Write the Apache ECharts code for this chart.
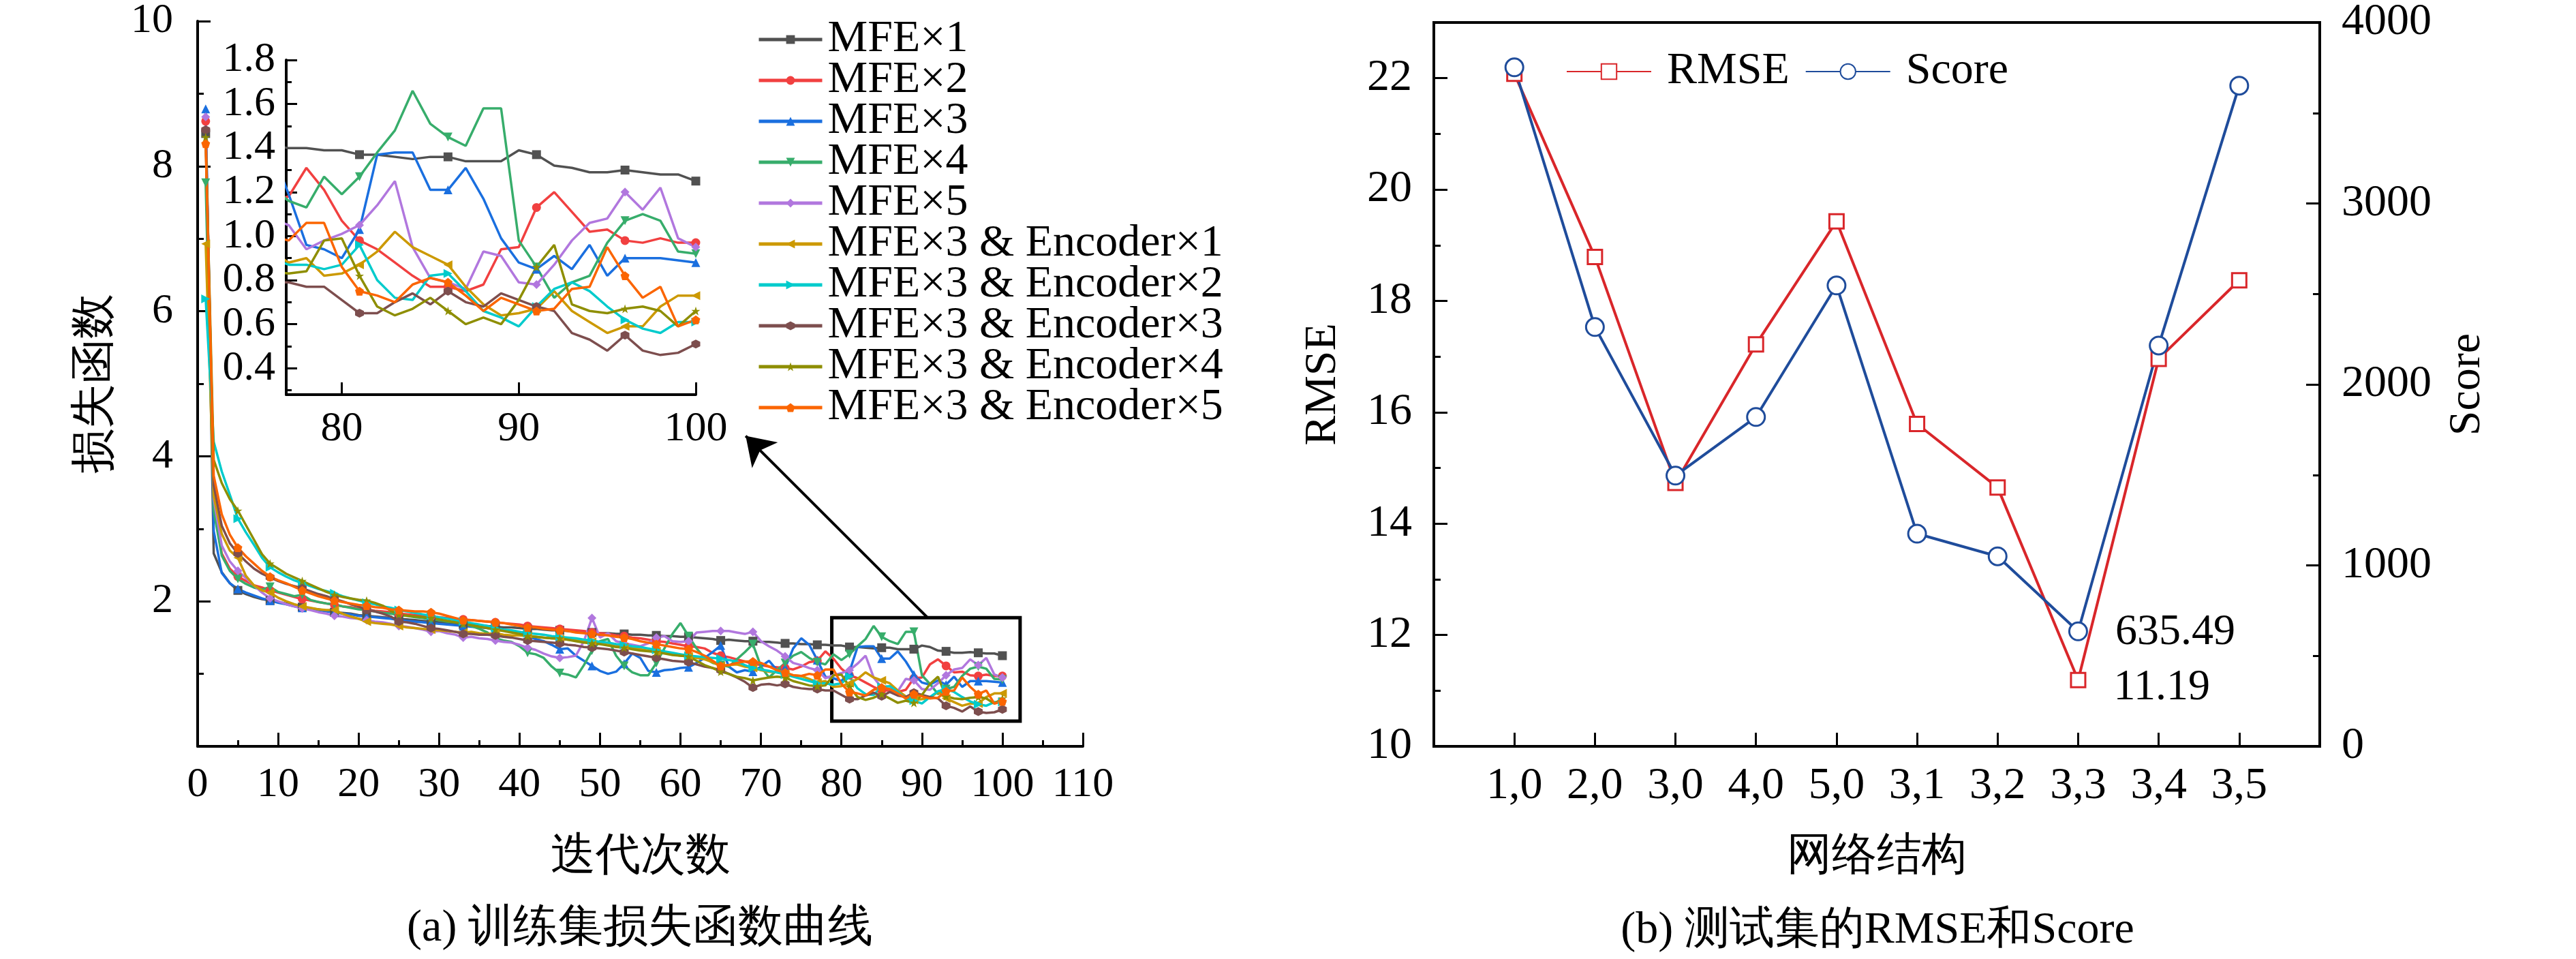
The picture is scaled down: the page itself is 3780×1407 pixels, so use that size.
<!DOCTYPE html>
<html>
<head>
<meta charset="utf-8">
<script src="https://cdn.jsdelivr.net/npm/echarts@6/dist/echarts.min.js"></script>
<style>
  html, body { margin: 0; padding: 0; background: #fff; }
  #chart { width: 3780px; height: 1407px; }
</style>
</head>
<body>
<div id="chart"></div>
<script>
// training loss per iteration (1..100), one array per network variant
var lossMFE1 = [8.45,2.66,2.40,2.25,2.15,2.10,2.06,2.03,2.01,1.99, 1.97,1.95,1.92,1.90,1.89,1.87,1.85,1.84,1.83,1.81,
    1.80,1.79,1.78,1.77,1.76,1.75,1.74,1.73,1.72,1.71, 1.70,1.69,1.68,1.67,1.67,1.66,1.65,1.64,1.64,1.63,
    1.62,1.62,1.61,1.60,1.60,1.59,1.58,1.58,1.57,1.56, 1.56,1.55,1.55,1.54,1.54,1.53,1.53,1.52,1.52,1.51,
    1.51,1.50,1.49,1.48,1.46,1.47,1.46,1.45,1.45,1.44, 1.44,1.43,1.42,1.42,1.41,1.41,
    1.40,1.40,1.39,1.39,1.37,1.37,1.36,1.35,1.36,1.36,1.34,1.34,1.34,1.39,1.37,1.32,1.31,1.29,1.29,1.30,1.29,1.28,1.28,1.25];
var lossMFE2 = [8.62,3.30,2.66,2.45,2.34,2.28,2.22,2.19,2.15,2.12, 2.09,2.06,2.03,2.01,1.99,1.97,1.95,1.93,1.92,1.90,
    1.89,1.87,1.86,1.85,1.83,1.82,1.81,1.80,1.79,1.78, 1.77,1.76,1.75,1.74,1.73,1.72,1.71,1.70,1.69,1.68,
    1.66,1.65,1.64,1.63,1.62,1.61,1.60,1.59,1.57,1.56, 1.55,1.53,1.52,1.50,1.49,1.47,1.45,1.44,1.42,1.40,
    1.38,1.37,1.35,1.29,1.25,1.23,1.20,1.17,1.14,1.12, 1.10,1.09,1.08,1.06,1.10,1.16,
    1.18,1.31,1.21,1.07,0.98,0.94,0.88,0.82,0.77,0.77,0.75,0.78,0.94,0.95,1.13,1.20,1.11,1.02,1.03,0.98,0.97,0.99,0.97,0.97];
var lossMFE3 = [8.79,2.97,2.39,2.25,2.17,2.12,2.08,2.04,2.01,1.98, 1.96,1.93,1.91,1.90,1.88,1.86,1.85,1.83,1.82,1.80,
    1.79,1.78,1.77,1.76,1.74,1.73,1.72,1.71,1.70,1.69, 1.68,1.67,1.66,1.65,1.64,1.63,1.61,1.60,1.58,1.56,
    1.52,1.48,1.45,1.40,1.34,1.35,1.25,1.18,1.11,1.04, 1.00,1.03,1.14,1.28,1.22,1.04,1.02,1.05,1.06,1.08,
    1.09,1.15,1.22,1.30,1.39,1.10,1.02,1.05,1.03,1.10, 1.18,1.05,1.08,1.35,1.49,1.40,
    1.19,0.96,0.94,0.90,1.03,1.37,1.38,1.38,1.21,1.21,1.31,1.17,0.99,0.88,0.85,0.91,0.85,0.96,0.82,0.90,0.90,0.90,0.89,0.88];
var lossMFE4 = [7.77,3.25,2.63,2.42,2.31,2.24,2.19,2.16,2.20,2.13, 2.10,2.07,2.09,2.02,1.99,1.97,1.96,1.93,1.91,1.89,
    1.88,1.86,1.84,1.83,1.81,1.80,1.78,1.77,1.75,1.74, 1.72,1.71,1.69,1.66,1.62,1.57,1.49,1.46,1.44,1.38,
    1.29,1.27,1.22,1.10,1.01,0.99,0.95,1.12,1.32,1.45, 1.48,1.25,1.11,1.02,0.98,0.98,1.15,1.35,1.55,1.70,
    1.52,1.35,1.22,1.15,1.12,1.10,1.20,1.30,1.41,1.10, 0.95,1.05,1.15,1.25,1.30,1.22,
    1.16,1.13,1.27,1.19,1.27,1.38,1.48,1.66,1.51,1.45,1.41,1.58,1.58,0.98,0.86,0.72,0.79,0.82,0.97,1.07,1.10,1.07,0.93,0.92];
var lossMFE5 = [8.68,3.41,2.77,2.55,2.42,2.32,2.22,2.12,2.04,2.00, 1.96,1.93,1.90,1.88,1.85,1.83,1.80,1.79,1.77,1.76,
    1.74,1.72,1.71,1.69,1.66,1.65,1.63,1.61,1.58,1.59, 1.56,1.54,1.50,1.51,1.49,1.48,1.46,1.44,1.43,1.40,
    1.36,1.33,1.28,1.24,1.22,1.23,1.25,1.45,1.77,1.50, 1.56,1.45,1.42,1.40,1.38,1.42,1.50,1.52,1.45,1.44,
    1.45,1.57,1.58,1.59,1.59,1.59,1.57,1.55,1.58,1.45, 1.38,1.32,1.24,1.15,1.12,1.08,
    1.05,0.94,0.98,1.01,1.05,1.14,1.25,0.95,0.81,0.79,0.76,0.93,0.91,0.79,0.78,0.87,0.98,1.06,1.08,1.20,1.12,1.22,0.99,0.95];
var lossEnc1 = [6.93,3.45,2.93,2.70,2.60,2.35,2.22,2.15,2.12,2.05, 2.00,1.96,1.93,1.91,1.89,1.88,1.88,1.83,1.79,1.76,
    1.72,1.70,1.69,1.68,1.66,1.64,1.63,1.62,1.61,1.60, 1.59,1.58,1.57,1.58,1.56,1.55,1.56,1.54,1.53,1.53,
    1.52,1.51,1.50,1.49,1.48,1.47,1.46,1.45,1.44,1.43, 1.42,1.40,1.37,1.36,1.34,1.32,1.31,1.29,1.27,1.25,
    1.24,1.22,1.20,1.16,1.11,1.12,1.13,1.10,1.08,1.05, 1.03,1.02,1.00,0.98,0.97,0.93,
    0.88,0.90,0.82,0.83,0.87,0.93,1.02,0.95,0.91,0.87,0.77,0.69,0.64,0.65,0.67,0.75,0.66,0.61,0.56,0.59,0.59,0.68,0.73,0.73];
var lossEnc2 = [6.17,4.20,3.79,3.47,3.14,2.95,2.78,2.60,2.47,2.40, 2.34,2.29,2.25,2.21,2.17,2.14,2.11,2.07,2.04,2.01,
    1.98,1.96,1.93,1.91,1.88,1.86,1.84,1.82,1.80,1.78, 1.76,1.74,1.72,1.70,1.68,1.66,1.63,1.61,1.60,1.58,
    1.56,1.55,1.54,1.52,1.51,1.50,1.49,1.47,1.46,1.44, 1.43,1.41,1.40,1.38,1.37,1.35,1.33,1.31,1.29,1.27,
    1.25,1.24,1.23,1.22,1.21,1.19,1.17,1.12,1.08,1.06, 1.04,1.02,0.99,0.96,0.93,0.90,
    0.87,0.87,0.85,0.87,0.96,0.80,0.72,0.71,0.82,0.83,0.75,0.66,0.63,0.59,0.68,0.76,0.79,0.75,0.68,0.62,0.58,0.56,0.61,0.61];
var lossEnc3 = [8.50,3.60,3.04,2.80,2.66,2.55,2.45,2.38,2.33,2.28, 2.24,2.21,2.18,2.14,2.10,2.07,2.03,2.00,1.96,1.93,
    1.88,1.86,1.83,1.79,1.72,1.71,1.69,1.66,1.63,1.62, 1.60,1.58,1.55,1.55,1.54,1.54,1.53,1.51,1.50,1.48,
    1.46,1.45,1.44,1.43,1.42,1.40,1.39,1.37,1.36,1.35, 1.34,1.32,1.30,1.28,1.26,1.24,1.22,1.20,1.18,1.17,
    1.16,1.13,1.10,1.08,1.05,1.00,0.95,0.89,0.81,0.85, 0.86,0.84,0.86,0.82,0.80,0.79,
    0.79,0.77,0.77,0.71,0.65,0.65,0.70,0.74,0.69,0.75,0.70,0.68,0.74,0.71,0.68,0.66,0.56,0.53,0.48,0.55,0.48,0.46,0.47,0.51];
var lossEnc4 = [8.40,3.95,3.63,3.41,3.25,3.05,2.85,2.65,2.52,2.45, 2.38,2.33,2.28,2.23,2.18,2.13,2.09,2.06,2.04,2.02,
    2.01,1.98,1.94,1.87,1.82,1.80,1.79,1.78,1.77,1.75, 1.73,1.71,1.69,1.67,1.65,1.63,1.61,1.59,1.57,1.55,
    1.52,1.51,1.50,1.49,1.49,1.47,1.45,1.43,1.42,1.41, 1.39,1.37,1.36,1.34,1.32,1.31,1.30,1.28,1.26,1.25,
    1.24,1.18,1.12,1.08,1.03,1.00,0.96,0.94,0.91,0.93, 0.95,0.96,0.95,0.90,0.87,0.84,
    0.83,0.84,0.98,0.99,0.82,0.68,0.64,0.67,0.72,0.66,0.60,0.63,0.60,0.71,0.86,0.96,0.69,0.66,0.65,0.67,0.68,0.66,0.59,0.66];
var lossEnc5 = [8.31,3.73,3.20,2.92,2.74,2.62,2.52,2.42,2.34,2.29, 2.25,2.20,2.15,2.11,2.07,2.04,2.01,1.99,1.97,1.95,
    1.94,1.92,1.91,1.89,1.88,1.87,1.86,1.86,1.85,1.83, 1.80,1.77,1.74,1.74,1.73,1.72,1.71,1.70,1.68,1.66,
    1.64,1.64,1.62,1.61,1.60,1.59,1.57,1.56,1.55,1.54, 1.53,1.51,1.50,1.48,1.45,1.43,1.41,1.39,1.37,1.35,
    1.34,1.30,1.25,1.18,1.11,1.12,1.15,1.17,1.17,1.15, 1.10,1.05,1.02,0.98,0.97,1.00,
    0.98,1.06,1.06,0.86,0.75,0.73,0.70,0.78,0.81,0.79,0.73,0.66,0.72,0.69,0.66,0.67,0.76,0.77,0.95,0.82,0.72,0.77,0.59,0.62];

var seriesNames = ['MFE×1', 'MFE×2', 'MFE×3', 'MFE×4', 'MFE×5',
    'MFE×3 & Encoder×1', 'MFE×3 & Encoder×2', 'MFE×3 & Encoder×3', 'MFE×3 & Encoder×4', 'MFE×3 & Encoder×5'];
var lossValues = [lossMFE1, lossMFE2, lossMFE3, lossMFE4, lossMFE5, lossEnc1, lossEnc2, lossEnc3, lossEnc4, lossEnc5];

// test set results
var structures = ['1,0', '2,0', '3,0', '4,0', '5,0', '3,1', '3,2', '3,3', '3,4', '3,5'];
var rmseValues = [22.08, 18.79, 14.73, 17.22, 19.43, 15.79, 14.65, 11.19, 16.96, 18.37];
var scoreValues = [3752, 2317, 1496, 1820, 2547, 1175, 1050, 635.49, 2215, 3651];
var bestIndex = 7;

// tick labels
var insetXTicks = [80, 90, 100];
var insetYTicks = [0.4, 0.6, 0.8, 1.0, 1.2, 1.4, 1.6, 1.8];
var insetYMinor = [0.3, 0.5, 0.7, 0.9, 1.1, 1.3, 1.5, 1.7];
var rmseTicks = [10, 12, 14, 16, 18, 20, 22];
var rmseMinor = [11, 13, 15, 17, 19, 21];
var structureTicks = [1, 2, 3, 4, 5, 6, 7, 8, 9, 10];

var iterations = lossMFE1.map(function (v, i) { return i + 1; });

var lineColors = ['#515151', '#F14040', '#1A6FDF', '#37AD6B', '#B177DE',
    '#CC9900', '#00CBCC', '#7D4E4E', '#8E8E00', '#FB6501'];
var markers = ['rect', 'circle', 'triangle', 'path://M0,0L10,0L5,10Z', 'diamond',
    'path://M10,0L10,10L0,5Z', 'path://M0,0L0,10L10,5Z',
    'path://M5,0L9.33,2.5L9.33,7.5L5,10L0.67,7.5L0.67,2.5Z',
    'path://M5,0L6.2,3.6L10,3.6L6.9,5.9L8.1,9.5L5,7.3L1.9,9.5L3.1,5.9L0,3.6L3.8,3.6Z',
    'path://M5,0L10,3.6L8.1,9.5L1.9,9.5L0,3.6Z'];

var serif = 'Liberation Serif';
var black = '#000';

var myChart = echarts.init(document.getElementById('chart'), null, { renderer: 'canvas' });

function pairs(vals) {
    return vals.map(function (v, i) { return [iterations[i], v]; });
}

// markers every `step` points plus the last one
function skipSize(step, size) {
    return function (val, p) {
        return (p.dataIndex % step === 0 || p.dataIndex === iterations.length - 1) ? size : 0;
    };
}

function axisLine() {
    return { show: true, onZero: false, lineStyle: { color: black, width: 4 } };
}

var series = [];
lossValues.forEach(function (vals, k) {
    series.push({
        type: 'line',
        name: seriesNames[k],
        data: pairs(vals),
        xAxisIndex: 0, yAxisIndex: 0,
        symbol: markers[k],
        symbolSize: skipSize(4, 13),
        lineStyle: { width: 3.5, color: lineColors[k] },
        itemStyle: { color: lineColors[k] },
        emphasis: { disabled: true }
    });
});
lossValues.forEach(function (vals, k) {
    series.push({
        type: 'line',
        name: seriesNames[k],
        data: pairs(vals),
        xAxisIndex: 1, yAxisIndex: 1,
        symbol: markers[k],
        symbolSize: skipSize(5, 13),
        lineStyle: { width: 3.5, color: lineColors[k] },
        itemStyle: { color: lineColors[k] },
        emphasis: { disabled: true },
        clip: true
    });
});

// zoom box and arrow pointing to the inset
series[0].markArea = {
    silent: true,
    itemStyle: { color: 'rgba(0,0,0,0)', borderColor: black, borderWidth: 5 },
    data: [[{ coord: [78.8, 1.775] }, { coord: [102.2, 0.347] }]]
};
series[0].markLine = {
    silent: true,
    symbol: ['none', 'arrow'],
    symbolSize: 40,
    label: { show: false },
    lineStyle: { color: black, width: 4, type: 'solid' },
    data: [[{ coord: [90.7, 1.775] }, { coord: [68.1, 4.28] }]]
};

series.push({
    type: 'line',
    name: 'RMSE',
    xAxisIndex: 2, yAxisIndex: 3,
    data: rmseValues.map(function (v, i) {
        var item = { value: [structureTicks[i], v] };
        if (i === bestIndex) {
            item.label = { show: true, position: 'right', distance: 40, offset: [0, 11],
                formatter: function (p) { return p.value[1].toFixed(2); },
                fontFamily: serif, fontSize: 64, color: black };
        }
        return item;
    }),
    symbol: 'rect',
    symbolSize: 21,
    lineStyle: { width: 4, color: '#D9262A' },
    itemStyle: { color: '#fff', borderColor: '#D9262A', borderWidth: 3 },
    emphasis: { disabled: true }
});
series.push({
    type: 'line',
    name: 'Score',
    xAxisIndex: 2, yAxisIndex: 5,
    data: scoreValues.map(function (v, i) {
        var item = { value: [structureTicks[i], v] };
        if (i === bestIndex) {
            item.label = { show: true, position: 'right', distance: 40, offset: [0, 2],
                formatter: function (p) { return String(p.value[1]); },
                fontFamily: serif, fontSize: 64, color: black };
        }
        return item;
    }),
    symbol: 'circle',
    symbolSize: 26,
    lineStyle: { width: 4, color: '#1F4C9B' },
    itemStyle: { color: '#fff', borderColor: '#1F4C9B', borderWidth: 3 },
    emphasis: { disabled: true }
});

var option = {
    animation: false,
    backgroundColor: '#fff',
    textStyle: { fontFamily: serif, color: black },
    grid: [
        { left: 290, top: 31, width: 1299, height: 1064 },
        { left: 420, top: 88, width: 601, height: 491 },
        { left: 2104, top: 33, width: 1300, height: 1062, show: true,
          borderColor: black, borderWidth: 4, backgroundColor: 'rgba(0,0,0,0)' }
    ],
    xAxis: [
        { type: 'value', gridIndex: 0, min: 0, max: 110, interval: 10,
          name: '迭代次数', nameLocation: 'middle', nameGap: 130,
          nameTextStyle: { fontSize: 66, fontFamily: serif, color: black },
          axisLine: axisLine(),
          axisTick: { inside: true, length: 20, lineStyle: { color: black, width: 3 } },
          minorTick: { show: true, splitNumber: 2, length: 9, lineStyle: { color: black, width: 3 } },
          axisLabel: { fontSize: 62, fontFamily: serif, color: black, margin: 26 },
          splitLine: { show: false } },
        { type: 'value', gridIndex: 1, min: 76.86, max: 100,
          axisLine: axisLine(),
          axisTick: { inside: true, length: 18, customValues: insetXTicks, lineStyle: { color: black, width: 3 } },
          axisLabel: { fontSize: 62, fontFamily: serif, color: black, margin: 20, customValues: insetXTicks },
          splitLine: { show: false } },
        { type: 'value', gridIndex: 2, min: 0, max: 11,
          name: '网络结构', nameLocation: 'middle', nameGap: 130,
          nameTextStyle: { fontSize: 66, fontFamily: serif, color: black },
          axisLine: axisLine(),
          axisTick: { inside: true, length: 20, customValues: structureTicks, lineStyle: { color: black, width: 3 } },
          axisLabel: { fontSize: 66, fontFamily: serif, color: black, margin: 26, customValues: structureTicks,
                       formatter: function (v) { return structures[v - 1]; } },
          splitLine: { show: false } }
    ],
    yAxis: [
        { type: 'value', gridIndex: 0, min: 0, max: 10, interval: 2,
          name: '损失函数', nameLocation: 'middle', nameGap: 116,
          nameTextStyle: { fontSize: 66, fontFamily: serif, color: black },
          axisLine: axisLine(),
          axisTick: { inside: true, length: 19, lineStyle: { color: black, width: 3 } },
          minorTick: { show: true, splitNumber: 2, length: 9, lineStyle: { color: black, width: 3 } },
          axisLabel: { fontSize: 62, fontFamily: serif, color: black, margin: 36,
                       formatter: function (v) { return v === 0 ? '' : String(v); } },
          splitLine: { show: false } },
        { type: 'value', gridIndex: 1, position: 'left', min: 0.28, max: 1.8,
          axisLine: axisLine(),
          axisTick: { inside: true, length: 16, customValues: insetYTicks, lineStyle: { color: black, width: 3 } },
          axisLabel: { fontSize: 62, fontFamily: serif, color: black, margin: 16, customValues: insetYTicks,
                       formatter: function (v) { return v.toFixed(1); } },
          splitLine: { show: false } },
        { type: 'value', gridIndex: 1, position: 'left', offset: 0, min: 0.28, max: 1.8,
          axisLine: { show: false },
          axisTick: { inside: true, length: 8, customValues: insetYMinor, lineStyle: { color: black, width: 3 } },
          axisLabel: { show: false },
          splitLine: { show: false } },
        { type: 'value', gridIndex: 2, position: 'left', min: 10, max: 23,
          name: 'RMSE', nameLocation: 'middle', nameGap: 129,
          nameTextStyle: { fontSize: 66, fontFamily: serif, color: black },
          axisLine: axisLine(),
          axisTick: { inside: true, length: 20, customValues: rmseTicks, lineStyle: { color: black, width: 3 } },
          axisLabel: { fontSize: 66, fontFamily: serif, color: black, margin: 32, customValues: rmseTicks },
          splitLine: { show: false } },
        { type: 'value', gridIndex: 2, position: 'left', offset: 0, min: 10, max: 23,
          axisLine: { show: false },
          axisTick: { inside: true, length: 10, customValues: rmseMinor, lineStyle: { color: black, width: 3 } },
          axisLabel: { show: false },
          splitLine: { show: false } },
        { type: 'value', gridIndex: 2, position: 'right', min: 0, max: 4000, interval: 1000,
          name: 'Score', nameLocation: 'middle', nameGap: 184,
          nameTextStyle: { fontSize: 66, fontFamily: serif, color: black },
          axisLine: axisLine(),
          axisTick: { inside: true, length: 20, lineStyle: { color: black, width: 3 } },
          minorTick: { show: true, splitNumber: 2, length: 10, lineStyle: { color: black, width: 3 } },
          axisLabel: { fontSize: 66, fontFamily: serif, color: black, margin: 32,
                       formatter: function (v) { return String(v); } },
          splitLine: { show: false } }
    ],
    legend: [
        { data: seriesNames, orient: 'vertical', left: 1106, top: 20,
          itemWidth: 93, itemHeight: 16, itemGap: -6,
          lineStyle: { width: 5 },
          textStyle: { fontSize: 66, fontFamily: serif, color: black, padding: [0, 0, 0, 3] },
          selectedMode: false },
        { data: ['RMSE', 'Score'], orient: 'horizontal', left: 2293, top: 67,
          itemWidth: 124, itemHeight: 28, itemGap: 23,
          textStyle: { fontSize: 66, fontFamily: serif, color: black, padding: [0, 0, 0, 18] },
          selectedMode: false }
    ],
    graphic: [
        { type: 'text', x: 939, y: 1363,
          style: { text: '(a) 训练集损失函数曲线', font: '66px Liberation Serif', fill: black,
                   textAlign: 'center', textVerticalAlign: 'middle' } },
        { type: 'text', x: 2755, y: 1366,
          style: { text: '(b) 测试集的RMSE和Score', font: '66px Liberation Serif', fill: black,
                   textAlign: 'center', textVerticalAlign: 'middle' } }
    ],
    series: series
};

myChart.setOption(option);
</script>
</body>
</html>
